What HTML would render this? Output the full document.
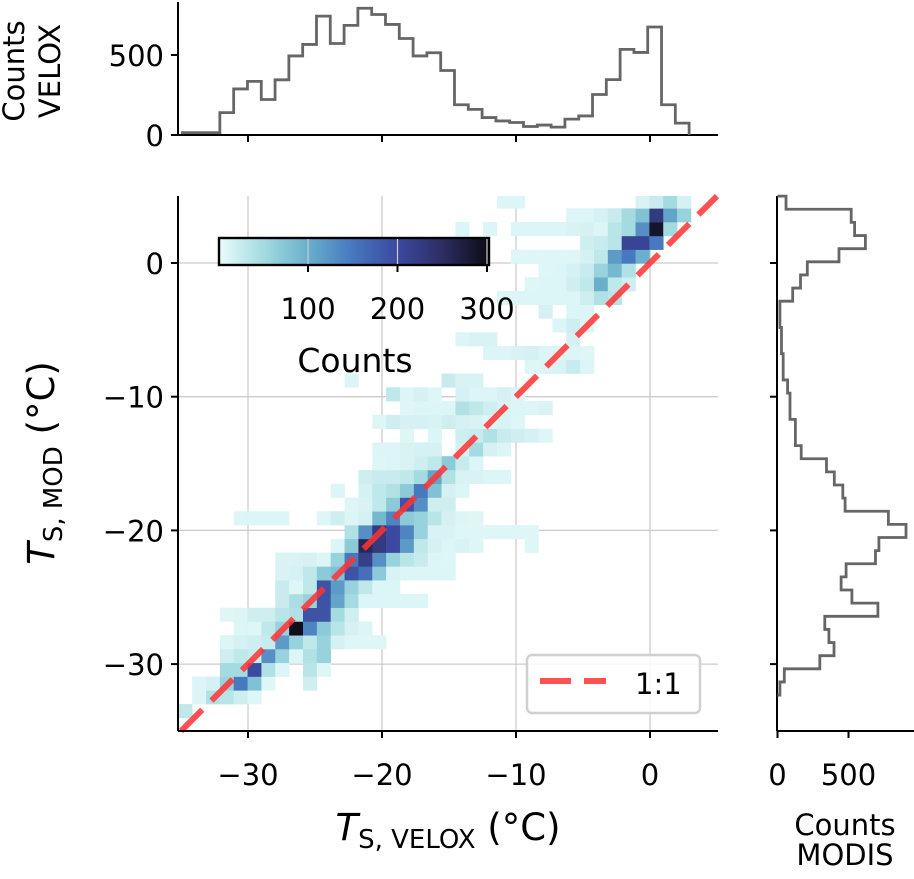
<!DOCTYPE html>
<html><head><meta charset="utf-8">
<style>
body{margin:0;background:#fff;}
svg text{font-family:"DejaVu Sans","Liberation Sans",sans-serif;fill:#000;}
</style></head>
<body>
<svg id="chart" width="914" height="874" viewBox="0 0 914 874" xmlns="http://www.w3.org/2000/svg">
<g id="grid"></g>
<g id="heat"></g>
<g id="front"></g>
</svg>
<script>
// ---- data ----
const xTicks = [-30, -20, -10, 0];
const yTicks = [0, -10, -20, -30];
const topHistStart = -32.1;
const topHistWidth = 1.03;
const topCounts = [140,288,335,222,345,494,566,743,572,685,792,753,691,603,494,514,403,189,160,109,88,78,53,62,49,99,119,253,346,535,516,675,189,74];
const topLeadCount = 15;
const rightHistTop = 5.0;
const rightHistHeight = 0.982;
const rightCounts = [60,519,543,619,433,210,162,107,17,17,28,28,40,40,71,88,88,126,126,167,345,400,460,476,781,905,714,690,483,448,524,707,333,362,398,298,48,17];
const cbTicks = [100, 200, 300];
// heatmap cells: [column, row, count]
const heatCells = [
[-3,-14,30],
[-2,-13,10],[-1,-13,40],[0,-13,35],[1,-13,20],[2,-13,8],
[-2,-12,10],[-1,-12,15],[0,-12,60],[1,-12,150],[2,-12,80],[3,-12,8],[6,-12,20],
[0,-11,50],[1,-11,50],[2,-11,200],[3,-11,40],[4,-11,10],[6,-11,35],[7,-11,8],
[0,-10,20],[1,-10,30],[2,-10,25],[3,-10,130],[4,-10,60],[5,-10,10],[6,-10,40],[7,-10,60],
[0,-9,10],[1,-9,15],[2,-9,20],[3,-9,25],[4,-9,120],[5,-9,60],[6,-9,30],[7,-9,60],[8,-9,15],[9,-9,8],[10,-9,8],[11,-9,8],
[1,-8,10],[2,-8,8],[3,-8,30],[4,-8,60],[5,-8,300],[6,-8,140],[7,-8,70],[8,-8,35],[9,-8,15],[10,-8,10],
[0,-7,8],[1,-7,10],[2,-7,20],[3,-7,20],[4,-7,35],[5,-7,40],[6,-7,190],[7,-7,190],[8,-7,50],[9,-7,20],
[4,-6,25],[5,-6,45],[6,-6,60],[7,-6,190],[8,-6,110],[9,-6,50],[10,-6,10],[11,-6,10],[12,-6,10],[13,-6,10],[14,-6,10],
[4,-5,25],[5,-5,8],[6,-5,30],[7,-5,190],[8,-5,120],[9,-5,60],[10,-5,30],[11,-5,10],[12,-5,10],
[4,-4,12],[5,-4,15],[6,-4,30],[7,-4,70],[8,-4,80],[9,-4,190],[10,-4,160],[11,-4,70],[12,-4,12],[13,-4,10],[14,-4,10],[15,-4,10],[16,-4,10],
[4,-3,12],[5,-3,12],[6,-3,15],[7,-3,10],[8,-3,60],[9,-3,150],[10,-3,220],[11,-3,130],[12,-3,60],[13,-3,35],[14,-3,25],[15,-3,10],[16,-3,8],
[8,-2,10],[9,-2,70],[10,-2,260],[11,-2,230],[12,-2,200],[13,-2,120],[14,-2,30],[15,-2,15],[16,-2,10],[17,-2,12],[18,-2,8],[22,-2,8],
[9,-1,40],[10,-1,130],[11,-1,230],[12,-1,200],[13,-1,140],[14,-1,60],[15,-1,12],[16,-1,12],[17,-1,8],[18,-1,8],[19,-1,8],[20,-1,8],[21,-1,8],[22,-1,8],
[1,0,10],[2,0,10],[3,0,10],[4,0,10],[7,0,8],[8,0,20],[9,0,10],[10,0,15],[11,0,90],[12,0,140],[13,0,70],[14,0,60],[15,0,35],[16,0,15],[17,0,10],[18,0,8],
[9,1,8],[10,1,12],[11,1,30],[12,1,70],[13,1,190],[14,1,130],[15,1,20],[16,1,20],
[8,2,10],[10,2,15],[11,2,30],[12,2,40],[13,2,70],[14,2,150],[15,2,80],[16,2,15],[17,2,10],
[10,3,20],[11,3,25],[12,3,25],[13,3,30],[14,3,50],[15,3,110],[16,3,40],[17,3,12],[18,3,12],[19,3,10],[20,3,10],
[11,4,8],[12,4,10],[13,4,12],[14,4,20],[15,4,30],[16,4,70],[17,4,25],[18,4,10],
[11,5,10],[12,5,10],[13,5,12],[14,5,15],[15,5,15],[17,5,15],[18,5,50],[19,5,15],[20,5,10],
[13,6,8],[15,6,10],[17,6,20],[18,6,25],[19,6,40],[20,6,25],[21,6,20],[22,6,15],[23,6,8],
[11,7,8],[12,7,20],[13,7,15],[14,7,15],[15,7,12],[16,7,20],[17,7,15],[18,7,12],[19,7,8],[20,7,12],[21,7,8],
[13,8,8],[14,8,10],[15,8,10],[16,8,10],[17,8,40],[18,8,30],[19,8,20],[20,8,12],[21,8,10],[22,8,10],[23,8,12],
[12,9,30],[13,9,10],[14,9,15],[15,9,8],[17,9,15],[18,9,10],[19,9,10],[20,9,15],[21,9,10],
[9,10,10],[16,10,25],[17,10,12],[18,10,12],
[22,11,8],[23,11,10],[24,11,12],[25,11,25],[26,11,10],
[19,12,10],[20,12,10],[21,12,12],[22,12,15],[23,12,10],[24,12,10],[25,12,10],[26,12,8],
[17,13,10],[18,13,12],[19,13,12],[25,13,15],
[24,14,10],[25,14,20],[26,14,8],
[23,15,15],[25,15,10],[26,15,10],
[20,16,10],[21,16,10],[22,16,10],[23,16,10],[24,16,10],[25,16,10],[26,16,20],[27,16,40],[28,16,35],
[22,17,8],[23,17,10],[24,17,10],[25,17,20],[26,17,30],[27,17,100],[28,17,30],[29,17,20],
[23,18,8],[24,18,10],[25,18,15],[26,18,25],[27,18,60],[28,18,90],[29,18,40],
[21,19,8],[22,19,8],[23,19,8],[24,19,8],[25,19,8],[26,19,15],[27,19,30],[28,19,120],[29,19,150],[30,19,100],
[26,20,20],[27,20,25],[28,20,35],[29,20,210],[30,20,210],[31,20,150],
[17,21,10],[19,21,10],[21,21,10],[22,21,10],[23,21,10],[24,21,10],[25,21,12],[26,21,15],[27,21,10],[28,21,35],[29,21,50],[30,21,130],[31,21,290],[32,21,50],
[25,22,10],[26,22,10],[27,22,15],[28,22,25],[29,22,50],[30,22,80],[31,22,230],[32,22,110],[33,22,60],
[20,23,10],[21,23,10],[30,23,12],[31,23,25],[32,23,50],[33,23,15]
];

// ---- scales ----
const X0=650, XS=13.4, Y0=263, YS=13.37;
const xs = v => X0 + v*XS;
const ys = v => Y0 - v*YS;
const topY = c => 135 - c*0.16;
const rightX = c => 777.5 + c*0.142;
const cbX = c => 218.5 + c*0.895;
const NS="http://www.w3.org/2000/svg";
function mk(tag, attrs, parent){const e=document.createElementNS(NS,tag);for(const k in attrs)e.setAttribute(k,attrs[k]);(parent||document.getElementById('front')).appendChild(e);return e;}

const stops=[[0,[234,251,251]],[50,[163,219,224]],[100,[106,176,204]],[150,[71,121,191]],[200,[59,74,160]],[250,[46,47,102]],[305,[11,11,21]]];
function cmap(v){for(let i=1;i<stops.length;i++){if(v<=stops[i][0]){const a=stops[i-1],b=stops[i];const t=(v-a[0])/(b[0]-a[0]);const c=a[1].map((x,j)=>Math.round(x+(b[1][j]-x)*t));return `rgb(${c[0]},${c[1]},${c[2]})`;}}return 'rgb(11,11,21)';}

// grid
const grid=document.getElementById('grid');
xTicks.forEach(t=>{const l=mk('line',{x1:xs(t),x2:xs(t),y1:196,y2:731,stroke:'#cccccc','stroke-width':1.3},grid);

});
yTicks.forEach(t=>{const l=mk('line',{x1:178,x2:718,y1:ys(t),y2:ys(t),stroke:'#cccccc','stroke-width':1.3},grid);

});

// heatmap
const heat=document.getElementById('heat');
const BX=1.034, BY=1.03, HX0=-32.1, HY0=-19.6;
heatCells.forEach(([c,r,n])=>{
  const x1=xs(HX0+c*BX), x2=xs(HX0+(c+1)*BX), y1=ys(HY0+(r+1)*BY), y2=ys(HY0+r*BY);
  const cx=Math.max(x1,178), cy=Math.max(y1,196);
  const el=mk('rect',{x:cx,y:cy,width:Math.min(x2,718)-cx+0.3,height:Math.min(y2,731)-cy+0.3,fill:cmap(n)},heat);
  
  
});

// 1:1 line
const oneLine=mk('line',{x1:xs(-35),y1:ys(-35),x2:xs(5),y2:ys(5),stroke:'#ff3333','stroke-opacity':0.85,'stroke-width':6,'stroke-dasharray':'30 13'});



function line(x1,y1,x2,y2,name,w){const l=mk('line',{x1,y1,x2,y2,stroke:'#000','stroke-width':w||2});return l;}
function text(x,y,s,size,anchor,name,tr){const a={x,y,'font-size':size,'text-anchor':anchor||'middle'};if(tr)a.transform=tr;const t=mk('text',a);t.textContent=s;return t;}
line(178,196,178,731,'y-axis-spine');
line(178,731,718,731,'x-axis-spine');
xTicks.forEach(t=>{line(xs(t),731,xs(t),738,'x-tick');text(xs(t),785,(t<0?'\u2212':'')+Math.abs(t),29,'middle','x-tick-label');});
yTicks.forEach(t=>{line(171,ys(t),178,ys(t),'y-tick');text(164,ys(t)+11,(t<0?'\u2212':'')+Math.abs(t),29,'end','y-tick-label');});

// axis titles
const xl=mk('text',{x:448,y:840,'font-size':37,'text-anchor':'middle'});
xl.innerHTML='<tspan font-style="italic">T</tspan><tspan font-size="26" dy="8">S, VELOX</tspan><tspan dy="-8"> (°C)</tspan>';


const yl=mk('text',{x:0,y:0,'font-size':37,'text-anchor':'middle',transform:'translate(54,463) rotate(-90)'});
yl.innerHTML='<tspan font-style="italic">T</tspan><tspan font-size="26" dy="8">S, MOD</tspan><tspan dy="-8"> (°C)</tspan>';



// top histogram
line(178,2,178,135,'top-hist-y-spine');
line(178,135,718,135,'top-hist-x-spine');
xTicks.forEach(t=>{line(xs(t),135,xs(t),142,'top-hist-x-tick');});
[0,500].forEach(v=>{line(171,topY(v),178,topY(v),'top-hist-y-tick');text(164,topY(v)+11,String(v),29,'end','top-hist-y-tick-label');});
let d=`M${xs(-35)},${topY(topLeadCount)} H${xs(topHistStart)}`;
topCounts.forEach((c,i)=>{d+=` V${topY(c)} H${xs(topHistStart+(i+1)*topHistWidth)}`;});
d+=` V${topY(0)}`;
const tp=mk('path',{d,fill:'none',stroke:'#666','stroke-width':2.8});


text(0,0,'Counts',29,'middle','top-hist-y-title','translate(24,71) rotate(-90)');
text(0,0,'VELOX',29,'middle','top-hist-y-title-2','translate(60,71) rotate(-90)');

// right histogram
line(777,196,777,731,'right-hist-y-spine');
line(777,731,914,731,'right-hist-x-spine');
yTicks.forEach(t=>{line(770,ys(t),777,ys(t),'right-hist-y-tick');});
[0,500].forEach(v=>{line(rightX(v),731,rightX(v),738,'right-hist-x-tick');text(rightX(v),785,String(v),29,'middle','right-hist-x-tick-label');});
let d2=`M${rightX(0)},${ys(rightHistTop)}`;
rightCounts.forEach((c,i)=>{d2+=` H${rightX(c)} V${ys(rightHistTop-(i+1)*rightHistHeight)}`;});
d2+=` H${rightX(0)}`;
const rp=mk('path',{d:d2,fill:'none',stroke:'#666','stroke-width':2.8});


text(845,835,'Counts',29,'middle','right-hist-x-title');
text(845,865,'MODIS',29,'middle','right-hist-x-title-2');

// colorbar
const defs=mk('defs',{});
const lg=mk('linearGradient',{id:'cbg',x1:0,x2:1,y1:0,y2:0},defs);
stops.forEach(s=>{mk('stop',{offset:(s[0]/305),'stop-color':cmap(s[0])},lg);});
const cb=mk('rect',{x:219,y:238,width:270,height:27,fill:'url(#cbg)',stroke:'#000','stroke-width':2.4});


cbTicks.forEach(v=>{
  const l=mk('line',{x1:cbX(v),x2:cbX(v),y1:239,y2:264,stroke:'#ccc','stroke-width':1.2});
  
  
  line(cbX(v),265,cbX(v),272,'colorbar-tick');
  text(cbX(v),319,String(v),29,'middle','colorbar-tick-label');
});
text(355,372,'Counts',33,'middle','colorbar-title');

// legend
const lgBox=mk('rect',{x:527,y:655,width:173,height:58,rx:5,fill:'#fff','fill-opacity':0.85,stroke:'#d0d0d0','stroke-width':2.5});


const ll=mk('line',{x1:540,y1:681,x2:606,y2:681,stroke:'#ff3333','stroke-opacity':0.85,'stroke-width':6,'stroke-dasharray':'31 13'});


text(635,694,'1:1',29,'start','legend-entry-label');
</script>
</body></html>
